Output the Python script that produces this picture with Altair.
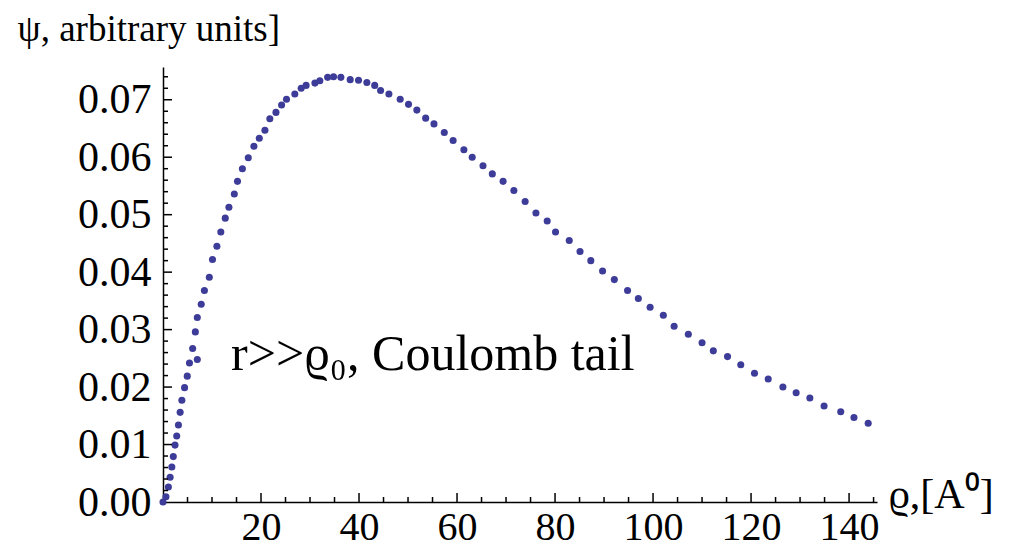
import altair as alt
import pandas as pd

# data
rho = [0.0, 0.6, 1.1, 1.45, 1.8, 2.1, 2.45, 2.8, 3.15, 3.5, 3.85, 4.4, 4.95, 5.4, 7.0,
       6.05, 6.6, 7.0, 7.8, 8.45, 9.45, 10.1, 11.0, 11.8, 12.7, 13.45, 14.55, 15.2, 16.2,
       17.4, 18.55, 19.65, 20.8, 21.8, 23.05, 24.2, 25.2, 26.9, 28.2, 29.2, 31.0, 32.0,
       33.6, 34.8, 36.3, 38.2, 39.9, 41.6, 43.2, 44.4, 46.1, 48.4, 50.1, 51.8, 53.6, 55.3,
       57.4, 59.2, 61.4, 63.1, 65.3, 67.2, 69.4, 71.6, 73.9, 76.1, 78.4, 80.1, 82.9, 85.1,
       87.3, 89.7, 92.1, 94.8, 97.0, 99.4, 102.1, 104.3, 107.2, 110.0, 112.3, 115.2, 117.9,
       120.7, 123.5, 126.5, 129.2, 132.0, 134.9, 138.3, 141.0, 143.9]
psi = [0.0, 0.0009, 0.0026, 0.0043, 0.0061, 0.0079, 0.0099, 0.0115, 0.0134, 0.0156, 0.0177,
       0.0199, 0.0219, 0.0242, 0.0248,
       0.0267, 0.0296, 0.0321, 0.0344, 0.0368, 0.0391, 0.0422, 0.0445, 0.047, 0.0494, 0.0513,
       0.0536, 0.0558, 0.058, 0.0599, 0.0619, 0.0633, 0.0647, 0.0667, 0.0678, 0.0691, 0.0701,
       0.071, 0.072, 0.0725, 0.0729, 0.0733, 0.0739, 0.074, 0.0739, 0.0735, 0.0734, 0.073,
       0.0725, 0.0716, 0.071, 0.0701, 0.0692, 0.0682, 0.0668, 0.0658, 0.0643, 0.0629, 0.0613,
       0.06, 0.0585, 0.0571, 0.0558, 0.0542, 0.0523, 0.0503, 0.0489, 0.047, 0.0455, 0.0436,
       0.042, 0.0402, 0.0387, 0.0368, 0.0354, 0.0339, 0.0325, 0.0306, 0.0292, 0.0277, 0.0263,
       0.0253, 0.0239, 0.0224, 0.0214, 0.02, 0.019, 0.0181, 0.0167, 0.0157, 0.0147, 0.0137]

x_major = [20, 40, 60, 80, 100, 120, 140]
x_minor = [5, 10, 15, 25, 30, 35, 45, 50, 55, 65, 70, 75, 85, 90, 95, 105, 110, 115,
           125, 130, 135, 145]
y_major = [0.01, 0.02, 0.03, 0.04, 0.05, 0.06, 0.07]
y_minor = [0.002, 0.004, 0.006, 0.008, 0.012, 0.014, 0.016, 0.018, 0.022, 0.024, 0.026,
           0.028, 0.032, 0.034, 0.036, 0.038, 0.042, 0.044, 0.046, 0.048, 0.052, 0.054,
           0.056, 0.058, 0.062, 0.064, 0.066, 0.068, 0.072, 0.074]

note_x = [13.9]
note_y = [0.0256]
note_text = ["r>>ϱ₀, Coulomb tail"]

W, H = 714, 435
FONT = "Liberation Serif"
COLOR = "#3d3d99"

xscale = alt.Scale(domain=[0, 145.7], nice=False, zero=False)
yscale = alt.Scale(domain=[0, 0.0757], nice=False, zero=False)

xaxis = alt.Axis(values=x_major, format="d", title="ϱ,[A⁰]",
                 titleAngle=0, titleAlign="left", titleBaseline="middle",
                 titleX=W + 11, titleY=-8, titleFont=FONT, titleFontSize=42,
                 titleFontWeight="normal", labelPadding=5, labelFontSize=40)
yaxis = alt.Axis(values=[0.0] + y_major, format=".2f", title="ψ, arbitrary units]",
                 titleAngle=0, titleAlign="left", titleBaseline="middle",
                 titleX=-146, titleY=-38, titleFont=FONT, titleFontSize=37,
                 titleFontWeight="normal", labelPadding=12, labelFontSize=42)

df = pd.DataFrame({"rho": rho, "psi": psi})

points = alt.Chart(df).mark_circle(size=50, color=COLOR, opacity=1).encode(
    x=alt.X("rho:Q", scale=xscale, axis=xaxis),
    y=alt.Y("psi:Q", scale=yscale, axis=yaxis),
)

def xticks(vals, length):
    return alt.Chart(pd.DataFrame({"v": vals})).mark_rule(color="black", strokeWidth=1.5).encode(
        x=alt.X("v:Q", scale=xscale, axis=xaxis),
        y=alt.value(H), y2=alt.value(H - length))

def yticks(vals, length):
    return alt.Chart(pd.DataFrame({"v": vals})).mark_rule(color="black", strokeWidth=1.5).encode(
        y=alt.Y("v:Q", scale=yscale, axis=yaxis),
        x=alt.value(0), x2=alt.value(length))

note = alt.Chart(pd.DataFrame({"x": note_x, "y": note_y, "t": note_text})).mark_text(
    font=FONT, fontSize=50, align="left", baseline="middle", color="black"
).encode(
    x=alt.X("x:Q", scale=xscale, axis=xaxis),
    y=alt.Y("y:Q", scale=yscale, axis=yaxis),
    text="t:N")

chart = alt.layer(
    points, xticks(x_major, 9), xticks(x_minor, 5), yticks(y_major, 9), yticks(y_minor, 5),
    note
).properties(
    width=W, height=H,
    autosize=alt.AutoSizeParams(type="none"),
    padding={"left": 163, "top": 67, "right": 150, "bottom": 53},
    background="white",
).configure_view(stroke=None).configure_axis(
    grid=False, ticks=False, domainColor="black", domainWidth=1.5,
    labelFont=FONT, labelColor="black", titleColor="black",
)

chart.save("out.html", embed_options={"renderer": "svg", "actions": False})
